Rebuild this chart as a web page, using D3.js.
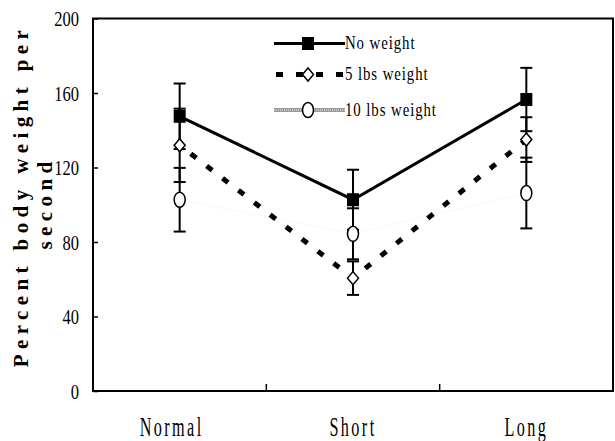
<!DOCTYPE html>
<html><head><meta charset="utf-8">
<script src="https://cdn.jsdelivr.net/npm/d3@7"></script>
<style>body{margin:0;background:#fff;} svg{display:block;}</style>
</head><body>
<svg id="c" width="615" height="441"></svg>
<script>
const categories = ["Normal", "Short", "Long"];
const seriesNames = ["No weight", "5 lbs weight", "10 lbs weight"];
const noWeight = [147.5, 102.7, 156.5];
const noWeightErr = [17.6, 16.1, 17.0];
const lbs5 = [131.9, 60.6, 135.0];
const lbs5Err = [19.7, 9.0, 12.0];
const lbs10 = [102.7, 84.4, 106.3];
const lbs10Err = [17.1, 13.7, 19.0];
const yTicks = [0, 40, 80, 120, 160, 200];
const yTitle = ["Percent body weight per", "second"];

const svg = d3.select("#c");
const M = {left: 93, right: 613, top: 18.5, bottom: 391};
const x = d3.scaleBand().domain(categories).range([M.left, M.right]);
const y = d3.scaleLinear().domain([0, 200]).range([M.bottom, M.top]);
const cx = c => x(c) + x.bandwidth() / 2;

const FONT = "'Liberation Serif', 'DejaVu Serif', serif";

function narrowText(g, px, py, str, size, sx, anchor, extra) {
  const t = g.append("g").attr("transform", `translate(${px},${py})`)
    .append("text").attr("transform", `scale(${sx},1)`)
    .attr("font-family", FONT).attr("font-size", size)
    .attr("text-anchor", anchor).attr("fill", "#000").text(str);
  if (extra) extra(t);
  return t;
}

// frame
svg.append("rect").attr("x", M.left).attr("y", M.top)
  .attr("width", M.right - M.left).attr("height", M.bottom - M.top)
  .attr("fill", "none").attr("stroke", "#000").attr("stroke-width", 2);

// y axis ticks (inward) and labels
const yAxis = d3.axisLeft(y).tickValues(yTicks).tickSize(-5).tickFormat("");
const ya = svg.append("g").attr("transform", `translate(${M.left},0)`).call(yAxis);
ya.select(".domain").remove();
ya.selectAll("line").attr("stroke", "#000").attr("stroke-width", 1.5);
yTicks.forEach(v => {
  narrowText(svg, 79, y(v) + 7.5, String(v), 22, 0.75, "end");
});

// x axis ticks at band boundaries (inward)
const xb = svg.append("g");
xb.selectAll("line").data(categories.slice(1)).join("line")
  .attr("x1", d => x(d)).attr("x2", d => x(d))
  .attr("y1", M.bottom).attr("y2", M.bottom - 7)
  .attr("stroke", "#000").attr("stroke-width", 1.5);
categories.forEach((c, i) => {
  narrowText(svg, cx(c) + (i === 0 ? -8 : 0), 436, c, 27, 0.6, "middle",
    t => t.attr("letter-spacing", 4));
});

// y title
const yt = svg.append("g");
yt.append("text").attr("transform", `translate(28,196) rotate(-90)`)
  .attr("font-family", FONT).attr("font-weight", "bold").attr("font-size", 21)
  .attr("letter-spacing", 5.4).attr("text-anchor", "middle").text(yTitle[0]);
yt.append("text").attr("transform", `translate(52,203) rotate(-90)`)
  .attr("font-family", FONT).attr("font-weight", "bold").attr("font-size", 21)
  .attr("letter-spacing", 5.4).attr("text-anchor", "middle").text(yTitle[1]);

const series = [
  {name: seriesNames[0], vals: noWeight, err: noWeightErr, stroke: "#000", width: 3, dash: null, marker: "square"},
  {name: seriesNames[1], vals: lbs5, err: lbs5Err, stroke: "#000", width: 5, dash: "7,13", marker: "diamond"},
  {name: seriesNames[2], vals: lbs10, err: lbs10Err, stroke: "#fbfbfb", width: 2, dash: null, marker: "circle"}
];

const line = d3.line().x((d, i) => cx(categories[i])).y(d => y(d));
[series[2], series[1], series[0]].forEach(s => {
  svg.append("path").attr("d", line(s.vals)).attr("fill", "none")
    .attr("stroke", s.stroke).attr("stroke-width", s.width)
    .attr("stroke-dasharray", s.dash).attr("stroke-dashoffset", s.dash ? -14 : null);
});

// error bars
series.forEach(s => {
  s.vals.forEach((v, i) => {
    const px = cx(categories[i]);
    const g = svg.append("g").attr("stroke", "#000").attr("stroke-width", 2);
    g.append("line").attr("x1", px).attr("x2", px).attr("y1", y(v - s.err[i])).attr("y2", y(v + s.err[i]));
    [v - s.err[i], v + s.err[i]].forEach(e => {
      g.append("line").attr("x1", px - 6).attr("x2", px + 6).attr("y1", y(e)).attr("y2", y(e));
    });
  });
});

function drawMarker(g, type, px, py) {
  if (type === "square") {
    g.append("rect").attr("x", px - 6).attr("y", py - 6.5).attr("width", 12).attr("height", 13)
      .attr("fill", "#000");
  } else if (type === "diamond") {
    g.append("path").attr("d", `M${px},${py - 6.5}L${px + 5.5},${py}L${px},${py + 6.5}L${px - 5.5},${py}Z`)
      .attr("fill", "#fff").attr("stroke", "#000").attr("stroke-width", 1.5);
  } else {
    g.append("ellipse").attr("cx", px).attr("cy", py).attr("rx", 5.5).attr("ry", 7.5)
      .attr("fill", "#fff").attr("stroke", "#000").attr("stroke-width", 1.5);
  }
}

series.forEach(s => {
  s.vals.forEach((v, i) => drawMarker(svg, s.marker, cx(categories[i]), y(v)));
});

// legend
const legY = [43.5, 74.5, 110];
series.forEach((s, i) => {
  const g = svg.append("g");
  const ly = legY[i];
  if (i === 2) {
    g.append("line").attr("x1", 274).attr("x2", 345).attr("y1", ly).attr("y2", ly)
      .attr("stroke", "#9a9a9a").attr("stroke-width", 4);
    g.append("line").attr("x1", 274).attr("x2", 345).attr("y1", ly).attr("y2", ly)
      .attr("stroke", "#d8d8d8").attr("stroke-width", 1.5).attr("stroke-dasharray", "1,1");
  } else {
    g.append("line").attr("x1", i === 1 ? 276 : 274).attr("x2", 345).attr("y1", ly).attr("y2", ly)
      .attr("stroke", "#000").attr("stroke-width", s.width).attr("stroke-dasharray", s.dash);
  }
  drawMarker(g, s.marker, 308, ly);
  narrowText(g, 345, ly + 5.5, s.name, 19, 0.78, "start", t => t.attr("letter-spacing", 1.2));
});
</script>
</body></html>
